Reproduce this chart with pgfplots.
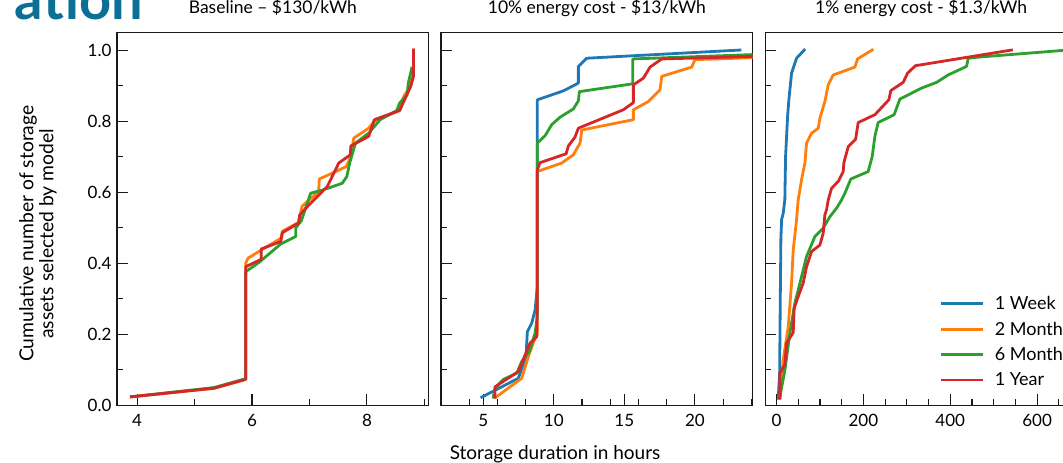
\documentclass[border=0pt]{standalone}
\usepackage{fontspec}
\setmainfont{Lato}
\usepackage{pgfplots}
\pgfplotsset{compat=1.18}
\definecolor{mblue}{HTML}{1F77B4}
\definecolor{morange}{HTML}{FF7F0E}
\definecolor{mgreen}{HTML}{2CA02C}
\definecolor{mred}{HTML}{D62728}
\definecolor{titleblue}{RGB}{12,112,150}
\newcommand{\fs}{\fontsize{17}{20}\selectfont}
\pgfplotsset{
  panel/.style={
    scale only axis, width=311.7pt, height=373pt,
    ymin=0, ymax=1.05,
    axis line style={line width=1.3pt, color=black!90},
    every tick/.style={line width=1.1pt, color=black!90},
    major tick length=11pt, minor tick length=6pt,
    tick align=inside, tick pos=left,
    ytick={0,0.2,0.4,0.6,0.8,1.0},
    minor ytick={0.1,0.3,0.5,0.7,0.9},
    ticklabel style={font=\fs},
    /pgf/number format/assume math mode=true,
    xticklabel style={yshift=-5pt},
    title style={at={(axis description cs:0.5,1)}, anchor=base, yshift=12.3pt, font=\fontsize{17.5}{20}\selectfont},
    every axis plot/.append style={line width=2.8pt, line join=round, line cap=rect},
  }
}
\begin{document}
\begin{tikzpicture}
\clip (0pt,0pt) rectangle (1063pt,463pt);
\node[anchor=base east, font=\fontsize{56}{60}\selectfont\bfseries, text=titleblue, inner sep=0pt] at (143pt,443pt) {ation};

% Panel 1
\begin{axis}[panel, at={(117pt,57.7pt)}, anchor=south west,
  xmin=3.65, xmax=9.075,
  xtick={4,6,8}, minor xtick={5,7,9},
  yticklabels={0.0,0.2,0.4,0.6,0.8,1.0},
  yticklabel style={xshift=-2pt},
  title={Baseline – \$130/kWh},
  ylabel={Cumulative number of storage\\assets selected by model},
  ylabel style={at={(axis description cs:-0.2535,0.46)}, anchor=center, align=center, font=\fontsize{19.3}{20}\selectfont},
]
\addplot[morange] coordinates {(3.9,0.024) (5.34,0.048) (5.89,0.073) (5.89,0.40) (5.93,0.414) (6.15,0.436) (6.5,0.47) (6.53,0.49) (6.81,0.515) (6.87,0.56) (7.16,0.602) (7.17,0.637) (7.39,0.653) (7.64,0.672) (7.72,0.70) (7.77,0.752) (8.03,0.78) (8.13,0.80) (8.57,0.83) (8.64,0.869) (8.76,0.90) (8.81,0.95) (8.81,1.0)};
\addplot[mgreen] coordinates {(3.9,0.024) (5.34,0.05) (5.89,0.075) (5.89,0.376) (6.12,0.402) (6.5,0.454) (6.76,0.475) (6.76,0.499) (6.86,0.52) (7.02,0.597) (7.25,0.607) (7.57,0.625) (7.65,0.644) (7.7,0.682) (7.8,0.738) (8.03,0.766) (8.23,0.804) (8.52,0.83) (8.57,0.851) (8.7,0.874) (8.72,0.907) (8.78,0.949)};
\addplot[mred] coordinates {(3.9,0.024) (5.34,0.048) (5.89,0.073) (5.89,0.39) (6.16,0.411) (6.16,0.44) (6.5,0.461) (6.53,0.486) (6.81,0.513) (6.83,0.536) (7.02,0.569) (7.31,0.616) (7.51,0.682) (7.71,0.705) (7.72,0.73) (8.03,0.757) (8.13,0.804) (8.57,0.83) (8.64,0.855) (8.76,0.897) (8.81,0.926) (8.81,1.0)};
\end{axis}

% Panel 2
\begin{axis}[panel, at={(441pt,57.7pt)}, anchor=south west,
  xmin=2.0, xmax=24.1,
  xtick={5,10,15,20}, minor xtick={2,4,6,8,12,14,16,18,22,24},
  yticklabels={},
  title={10\% energy cost - \$13/kWh},
  xlabel={Storage duration in hours},
  xlabel style={at={(axis description cs:0.366,-0.1448)}, anchor=base, font=\fontsize{19}{22}\selectfont},
]
\addplot[mblue] coordinates {(4.89,0.023) (7.48,0.076) (8.03,0.137) (8.12,0.207) (8.43,0.231) (8.67,0.268) (8.83,0.334) (8.83,0.86) (10.67,0.885) (11.74,0.907) (11.74,0.954) (12.33,0.977) (23.2,1.0)};
\addplot[morange] coordinates {(5.9,0.023) (7.72,0.076) (8.19,0.137) (8.67,0.189) (8.83,0.2) (8.83,0.658) (10.56,0.682) (11.38,0.705) (11.86,0.738) (11.98,0.775) (15.64,0.804) (15.64,0.832) (16.7,0.855) (17.53,0.888) (17.65,0.926) (19.78,0.952) (20.0,0.973) (26,0.981)};
\addplot[mgreen] coordinates {(5.71,0.023) (5.83,0.048) (6.42,0.073) (7.37,0.09) (7.72,0.123) (8.26,0.151) (8.67,0.203) (8.83,0.25) (8.83,0.738) (9.38,0.759) (9.85,0.79) (10.44,0.811) (11.38,0.834) (11.74,0.857) (11.81,0.883) (15.6,0.905) (15.6,0.975) (26,0.99)};
\addplot[mred] coordinates {(5.83,0.023) (5.83,0.052) (7.48,0.095) (8.31,0.175) (8.79,0.193) (8.83,0.3) (8.83,0.663) (9.02,0.683) (10.87,0.708) (11.03,0.73) (11.5,0.755) (11.74,0.78) (14.93,0.832) (15.64,0.852) (15.64,0.902) (16.35,0.921) (16.82,0.952) (17.65,0.975) (26,0.984)};
\end{axis}

% Panel 3
\begin{axis}[panel, at={(765.3pt,57.7pt)}, anchor=south west,
  xmin=-26, xmax=692,
  xtick={0,200,400,600}, minor xtick={50,100,150,250,300,350,450,500,550,650},
  yticklabels={},
  title={1\% energy cost - \$1.3/kWh},
  legend style={draw=none, fill=none, font=\fontsize{18}{21}\selectfont, at={(axis description cs:0.56,0.298)}, anchor=north west, row sep=6.7pt, inner sep=0pt,
    /tikz/every odd column/.append style={column sep=8pt}},
  legend cell align=left,
  legend image code/.code={\draw[#1, line width=2.8pt, line cap=butt] (0pt,0pt) -- (42pt,0pt);},
]
\addplot[mblue] coordinates {(3.8,0.02) (7,0.09) (8.5,0.3) (9.9,0.468) (11.5,0.522) (15.3,0.541) (19,0.578) (20.7,0.70) (25.3,0.813) (28.3,0.86) (34.5,0.935) (46,0.977) (63.6,1.0)};
\addlegendentry{1 Week}
\addplot[morange] coordinates {(7.6,0.024) (15.2,0.128) (26.8,0.221) (34.5,0.344) (38.3,0.437) (46,0.522) (49.7,0.578) (57.5,0.635) (65.2,0.682) (69,0.738) (80.6,0.766) (95.9,0.78) (99.7,0.808) (111.2,0.855) (118.9,0.902) (130.4,0.93) (180.3,0.952) (186.5,0.975) (220,1.0)};
\addlegendentry{2 Month}
\addplot[mgreen] coordinates {(7.6,0.024) (19.1,0.099) (30.6,0.203) (42,0.287) (57.5,0.362) (69,0.419) (88.2,0.475) (107.4,0.499) (122.8,0.531) (138.2,0.555) (149.7,0.578) (157.3,0.597) (171,0.637) (211,0.658) (220.2,0.70) (226.4,0.757) (234,0.796) (270.8,0.818) (284,0.862) (334,0.893) (368.5,0.909) (395.3,0.93) (437.6,0.954) (441.3,0.977) (464,0.98) (670,1.0)};
\addlegendentry{6 Month}
\addplot[mred] coordinates {(7.6,0.02) (7.6,0.09) (19,0.114) (23,0.175) (38.3,0.205) (40.5,0.273) (49.7,0.306) (61.3,0.344) (69,0.39) (80.6,0.433) (99.7,0.451) (107.3,0.484) (111.2,0.536) (115,0.55) (119,0.578) (126.6,0.611) (141.9,0.63) (153.4,0.658) (155,0.683) (165,0.728) (182,0.749) (188,0.796) (226.4,0.818) (258.6,0.86) (263.2,0.886) (291.6,0.909) (301.7,0.935) (320,0.956) (541,1.0)};
\addlegendentry{1 Year}
\end{axis}
\end{tikzpicture}
\end{document}
